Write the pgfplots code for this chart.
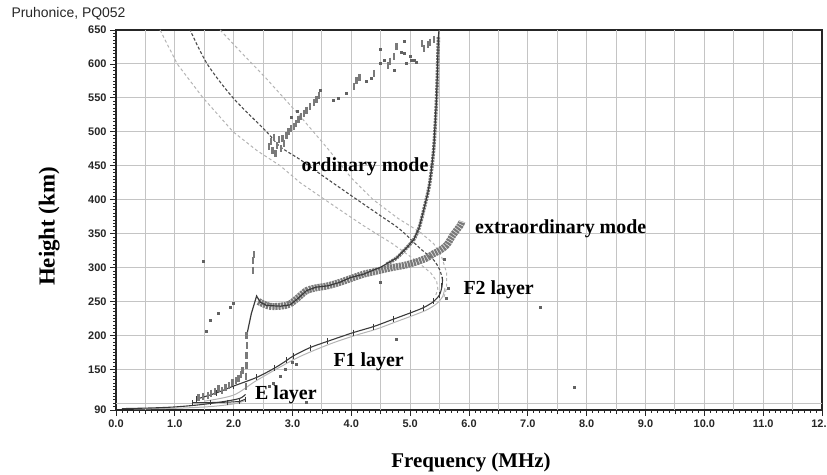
\documentclass[border=0pt]{standalone}
\usepackage{pgfplots}
\pgfplotsset{compat=1.18}
\usepackage{fontspec}
\setmainfont{Liberation Serif}
\setsansfont{Liberation Sans}
\definecolor{gridc}{HTML}{C4C4C4}
\definecolor{trace}{HTML}{3A3A3A}
\definecolor{blockc}{HTML}{7A7A7A}
\definecolor{lightd}{HTML}{B4B4B4}
\definecolor{darkd}{HTML}{4A4A4A}
\begin{document}
\begin{tikzpicture}[x=1bp,y=1bp]
\begin{axis}[
  at={(116bp,65bp)}, anchor=south west,
  scale only axis, width=706bp, height=380bp,
  xmin=0, xmax=12, ymin=90, ymax=650,
  xtick={0,1,...,12},
  xticklabels={0.0,1.0,2.0,3.0,4.0,5.0,6.0,7.0,8.0,9.0,10.0,11.0,12.0},
  extra x ticks={0.5,1.5,...,11.5},
  extra x tick labels={},
  extra x tick style={grid=major, major tick length=4.5bp},
  minor x tick num=9,
  ytick={90,150,200,...,650},
  yticklabels={90,150,200,250,300,350,400,450,500,550,600,650},
  extra y ticks={100},
  extra y tick labels={},
  extra y tick style={grid=major, major tick length=3bp},
  minor ytick={95,100,...,645},
  grid=major,
  grid style={gridc, line width=1bp},
  axis line style={black!85, line width=1.2bp},
  tick style={black!85, line width=0.7bp},
  tick align=outside,
  tick pos=left,
  major tick length=6bp,
  minor tick length=3bp,
  tick label style={font=\sffamily\bfseries\fontsize{11}{12}\selectfont, text=black!85},
  clip=true,
]
% light dashed model curves
\addplot[lightd, line width=1bp, dash pattern=on 3bp off 2.5bp] coordinates {
(0.75,650)(1.04,600)(1.48,550)(1.99,500)(2.4,472)(2.79,450)(3.13,425)(3.6,397)(4.2,362)(4.7,335)(5.1,310)(5.35,292)(5.45,280)(5.47,268)(5.43,258)};
\addplot[lightd, line width=1bp, dash pattern=on 3bp off 2.5bp] coordinates {
(1.77,650)(2.15,615)(2.56,578)(3.13,523)(3.6,475)(4.0,432)(4.37,400)(4.8,372)(5.17,352)(5.4,335)(5.53,317)(5.62,292)(5.62,270)(5.57,255)};
% faint companion lines
\addplot[lightd, line width=1bp, smooth] coordinates {
(0.3,91.5)(1.0,92.5)(1.6,95)(2.0,99)(2.2,104)};
\addplot[lightd, line width=1bp, smooth] coordinates {
(1.5,103)(2.0,112)(2.4,134)(3.06,166)(3.63,187)(4.07,200)(4.42,209)(4.76,220)(5.04,229)(5.27,237)(5.44,246)(5.55,257)(5.59,270)};
% E layer traces
\addplot[trace, line width=1.1bp, smooth] coordinates {
(0.1,92)(0.6,93)(1.0,94.5)(1.4,97.5)(1.8,102)(2.1,107)(2.2,113)};
\addplot[trace, line width=1bp, mark=|, mark size=2.5bp, mark options={solid, line width=0.8bp}] coordinates {
(1.3,101)(1.6,101)(1.9,101.5)(2.1,102.5)(2.2,106)};
% F trace (F1 + F2)
\addplot[trace, line width=1.1bp, smooth, mark=|, mark size=3bp, mark options={line width=0.9bp}] coordinates {
(1.37,106)(1.7,115)(1.99,125)(2.39,138)(2.7,152)(2.9,163)(3.02,170)(3.3,182)(3.59,191)(4.03,204)(4.38,213)(4.72,224)(5.0,233)(5.23,241)(5.4,250)(5.5,260)(5.54,272)(5.55,282)};
% dark dashed model
\addplot[darkd, line width=1.1bp, dash pattern=on 3bp off 2bp, smooth] coordinates {
(5.55,282)(5.5,297)(5.39,312)(5.17,328)(4.83,356)(4.5,376)(4.03,404)(3.5,436)(3.13,459)(2.79,478)(2.56,500)(1.99,550)(1.55,600)(1.26,650)};
% blocky band (o + x mode echoes)
\addplot[blockc, line width=7bp, dash pattern=on 2.2bp off 0.8bp, smooth] coordinates {
(2.42,250)(2.6,243)(2.8,243)(2.95,246)(3.1,256)(3.24,266)(3.4,270)(3.6,273)(3.8,278)(4.0,284)(4.2,290)(4.4,294)(4.54,297)(4.7,300)(4.83,302)(4.94,304)(5.1,308)(5.28,314)(5.39,320)(5.5,325)(5.62,333)(5.73,348)(5.85,362)(5.88,368)};
\addplot[blockc, line width=3.5bp, dash pattern=on 2bp off 1bp, smooth] coordinates {
(4.6,305)(4.77,314)(4.95,330)(5.06,341)(5.15,358)(5.22,381)(5.30,410)(5.34,429)(5.40,474)(5.45,552)(5.48,640)};
% ordinary mode trace
\addplot[trace, line width=1.2bp] coordinates {
(2.21,195)(2.30,232)(2.39,258)(2.45,249)(2.56,244)(2.8,243)(2.96,245)(3.1,255)(3.24,266)(3.4,271)(3.6,273)(3.8,278)(3.98,285)(4.2,290)(4.49,300)(4.77,314)(4.95,330)(5.06,341)(5.15,358)(5.22,381)(5.30,410)(5.34,429)(5.40,474)(5.45,552)(5.48,640)(5.49,650)};
% blocky echoes
\addplot[only marks, mark=|, mark size=3.5bp, mark options={blockc, line width=2.3bp}] coordinates {
(2.60,478)(2.63,485)(2.66,472)(2.68,492)(2.71,468)(2.74,480)(2.77,488)(2.80,475)(2.83,490)(2.86,483)(2.90,495)(2.93,500)(2.97,505)(3.02,508)(3.06,512)(3.10,518)(3.14,522)(3.19,527)(3.24,532)(3.30,537)(3.36,543)(3.41,548)(3.45,553)(4.04,567)(4.09,575)(4.14,580)(4.38,586)(4.62,597)(4.66,604)(4.72,611)(4.77,625)(5.20,630)(5.24,622)(5.30,628)(5.34,632)(5.40,636)
(1.40,108)(1.48,110)(1.56,112)(1.62,115)(1.68,117)(1.74,121)(1.80,119)(1.86,123)(1.92,126)(1.98,130)(2.04,133)(2.08,137)(2.12,142)(2.15,148)(2.21,125)(2.21,140)(2.22,155)(2.22,170)(2.23,185)(2.22,200)(2.33,296)(2.33,310)(2.34,319)};
\addplot[only marks, mark=square*, mark size=1bp, mark options={blockc!80!black}] coordinates {
(2.98,522)(3.08,530)(3.47,562)(3.70,547)(3.78,550)(3.92,557)(4.26,574)(4.33,579)(4.49,601)(4.49,621)(4.55,605)(4.72,591)(4.89,616)(4.94,601)(5.02,605)(5.06,606)(5.11,603)(4.89,633)(4.85,617)(5.0,612)
(1.48,309)(1.54,206)(1.60,223)(1.74,233)(1.94,241)(2.0,248)(7.21,241)(7.78,123)(4.77,194)(4.49,278)(5.57,312)(5.65,270)(5.61,255)(2.68,130)(2.79,140)(2.88,150)(3.0,160)(3.07,158)(2.6,125)(3.24,101)};
\end{axis}
\node[anchor=base west, font=\sffamily\fontsize{14}{16}\selectfont, text=black!85] at (8,457.7) {Pruhonice, PQ052};
\node[anchor=base, font=\bfseries\fontsize{21}{24}\selectfont] at (471,7.7) {Frequency (MHz)};
\node[anchor=base, rotate=90, font=\bfseries\fontsize{23}{26}\selectfont] at (54.5,248.5) {Height (km)};
\node[anchor=base, font=\bfseries\fontsize{20}{22}\selectfont] at (365,303.3) {ordinary mode};
\node[anchor=base west, font=\bfseries\fontsize{20}{22}\selectfont] at (471.7,241.7) {extraordinary mode};
\node[anchor=base west, font=\bfseries\fontsize{20}{22}\selectfont] at (460,180) {F2 layer};
\node[anchor=base west, font=\bfseries\fontsize{20}{22}\selectfont] at (330,108.3) {F1 layer};
\node[anchor=base west, font=\bfseries\fontsize{20}{22}\selectfont] at (251.7,75) {E layer};
\pgfresetboundingbox
\path (0,0) rectangle (827,475);
\end{tikzpicture}
\end{document}
